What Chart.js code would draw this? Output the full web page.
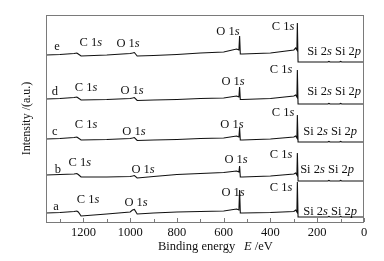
<!DOCTYPE html>
<html><head><meta charset="utf-8">
<script src="https://cdn.jsdelivr.net/npm/chart.js@4/dist/chart.umd.min.js"></script>
<style>html,body{margin:0;padding:0;background:#fff}#wrap{width:384px;height:261px}</style>
</head><body><div id="wrap"><canvas id="c" width="384" height="261"></canvas></div>
<script>
// Binding energy (eV) sample points, shared by all spectra
const energy = [1360,1300,1240,1228,1222,1210,1100,1000,990,982,970,900,800,700,600,545,535,532,529,520,400,300,292,287,285,282,250,200,155,150,145,105,100,95,0];
// Intensity (a.u., stacked)
const spectrumA = [9,9.5,10.5,11,10,6,8,10,12,12.5,8,9,10,10.5,11,13,12,32,9,9,9.5,10.5,12,10,40,5,5,5,5,5.6,5,5,5.6,5,5];
const spectrumB = [47,47.5,48,48.5,47.5,45,45,45.5,46,46.5,44,45.5,47.5,48.5,49.5,51,50,56,45,45,46,48,49,47,69,41,41,41,41,41.6,41,41,41.6,41,41];
const spectrumC = [83,83.5,84.5,85,84,82,82.5,83.5,84,84.5,81.5,82,82.5,83.5,84,86,85,94,82,82,83,85,86,84,107,80,80,80,80,80.6,80,80,80.6,80,80];
const spectrumD = [123,123.5,124.5,125,124,122,122.5,123.5,124,124.5,121.5,122,122.5,123.5,124,126,125,135,122.5,122.5,123.5,126,127,125,152,118,118,118,118,118.6,118,118,118.6,118,118];
const spectrumE = [167,167.5,168.5,169,168,166,167,168.5,169,169.5,166,166.5,167.5,169,170,173,172,186,168,168,169,172,174,172,199,160,160,160,160,160.6,160,160,160.6,160,160];
const sampleNames = ['a','b','c','d','e'];
const xTickValues = [1300,1200,1100,1000,900,800,700,600,500,400,300,200,100,0];
const xAxisTitle = 'Binding energy';
const yAxisTitle = 'Intensity /(a.u.)';

// Peak annotations (text parts, anchored in data coordinates)
const I = (t)=>[t,1], R=(t)=>[t,0];
const annotations = [
  // e
  {p:[R('e')], e:1313, v:175}, {p:[R('C 1'),I('s')], e:1168, v:179}, {p:[R('O 1'),I('s')], e:1009, v:178},
  {p:[R('O 1'),I('s')], e:582, v:190}, {p:[R('C 1'),I('s')], e:346, v:195}, {p:[R('Si 2'),I('s'),R(' Si 2'),I('p')], e:128, v:170},
  // d
  {p:[R('d')], e:1322, v:130}, {p:[R('C 1'),I('s')], e:1189, v:134}, {p:[R('O 1'),I('s')], e:992, v:131},
  {p:[R('O 1'),I('s')], e:560, v:140}, {p:[R('C 1'),I('s')], e:355, v:152}, {p:[R('Si 2'),I('s'),R(' Si 2'),I('p')], e:128, v:130},
  // c
  {p:[R('c')], e:1322, v:90}, {p:[R('C 1'),I('s')], e:1189, v:97}, {p:[R('O 1'),I('s')], e:984, v:90},
  {p:[R('O 1'),I('s')], e:565, v:97}, {p:[R('C 1'),I('s')], e:346, v:109}, {p:[R('Si 2'),I('s'),R(' Si 2'),I('p')], e:145, v:90},
  // b
  {p:[R('b')], e:1309, v:52}, {p:[R('C 1'),I('s')], e:1215, v:59}, {p:[R('O 1'),I('s')], e:945, v:52},
  {p:[R('O 1'),I('s')], e:547, v:62}, {p:[R('C 1'),I('s')], e:355, v:67}, {p:[R('Si 2'),I('s'),R(' Si 2'),I('p')], e:158, v:52},
  // a
  {p:[R('a')], e:1317, v:15}, {p:[R('C 1'),I('s')], e:1180, v:22}, {p:[R('O 1'),I('s')], e:975, v:19},
  {p:[R('O 1'),I('s')], e:560, v:29}, {p:[R('C 1'),I('s')], e:355, v:34}, {p:[R('Si 2'),I('s'),R(' Si 2'),I('p')], e:145, v:10}
];

const FONT = '"Liberation Serif","Times New Roman",serif';
function drawRich(ctx, parts, x, y, size){
  let w = 0;
  const ws = parts.map(([t,it])=>{ctx.font=(it?'italic ':'')+size+'px '+FONT; const m=ctx.measureText(t).width; w+=m; return m;});
  let cx = x - w/2;
  ctx.textAlign='left'; ctx.textBaseline='middle';
  parts.forEach(([t,it],i)=>{ctx.font=(it?'italic ':'')+size+'px '+FONT; ctx.fillText(t,cx,y); cx+=ws[i];});
}

const decor = {
  id:'decor',
  afterDatasetsDraw(chart){
    const ctx = chart.ctx, a = chart.chartArea, xs = chart.scales.x, ys = chart.scales.y;
    ctx.save();
    ctx.strokeStyle = '#7a7a7a'; ctx.lineWidth = 1;
    ctx.strokeRect(a.left+0.5, a.top+0.5, a.right-a.left-1, a.bottom-a.top);
    ctx.beginPath();
    xTickValues.forEach(v=>{
      const px = Math.round(xs.getPixelForValue(v))+0.5;
      const len = (v%200===0)?4:3;
      ctx.moveTo(px, a.bottom); ctx.lineTo(px, a.bottom-len);
    });
    ctx.stroke();
    ctx.fillStyle = '#111';
    annotations.forEach(an=>{
      drawRich(ctx, an.p, xs.getPixelForValue(an.e), ys.getPixelForValue(an.v), 12.5);
    });
    // axis titles
    ctx.textBaseline='middle';
    ctx.font = '12.5px '+FONT; ctx.textAlign='left';
    ctx.fillText(xAxisTitle, 158, 247);
    ctx.font = 'italic 12.5px '+FONT; ctx.fillText('E', 244, 247);
    const we = ctx.measureText('E ').width;
    ctx.font = '12.5px '+FONT; ctx.fillText('/eV', 244+we, 247);
    ctx.save();
    ctx.translate(27, (a.top+a.bottom)/2); ctx.rotate(-Math.PI/2);
    ctx.textAlign='center'; ctx.font='12px '+FONT;
    ctx.fillText(yAxisTitle, 0, 0);
    ctx.restore();
    ctx.restore();
  }
};

const series = [spectrumA, spectrumB, spectrumC, spectrumD, spectrumE];
new Chart(document.getElementById('c'), {
  type:'line',
  data:{ datasets: series.map((s,i)=>({
    label: sampleNames[i],
    data: energy.map((e,j)=>({x:e, y:s[j]})),
    borderColor:'#111', borderWidth:1.1, pointRadius:0, tension:0, fill:false
  }))},
  options:{
    responsive:false, animation:false, devicePixelRatio:1,
    layout:{padding:{top:15, right:20, left:0, bottom:0}},
    plugins:{legend:{display:false}, tooltip:{enabled:false}},
    scales:{
      x:{type:'linear', reverse:true, min:0, max:1360,
        afterBuildTicks(s){ s.ticks = xTickValues.map(v=>({value:v})); },
        afterFit(s){ s.height = 39; },
        border:{display:false},
        grid:{display:true, drawOnChartArea:false, drawTicks:false, color:'rgba(0,0,0,0)'},
        ticks:{autoSkip:false, maxRotation:0, padding:3, color:'#111', font:{family:FONT, size:12.5},
          callback:(v)=> (v%200===0 ? String(v) : '')}
      },
      y:{type:'linear', min:0, max:207,
        afterFit(s){ s.width = 46; },
        border:{display:false}, grid:{display:false},
        ticks:{display:false}
      }
    }
  },
  plugins:[decor]
});
</script>
</body></html>
